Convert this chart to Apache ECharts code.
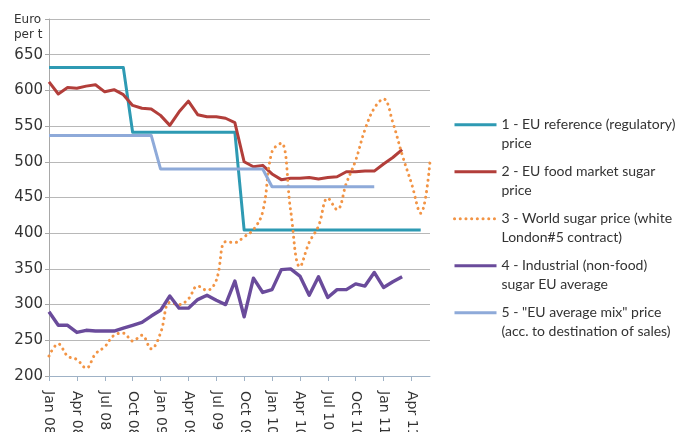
<!DOCTYPE html>
<html>
<head>
<meta charset="utf-8">
<script src="https://cdn.jsdelivr.net/npm/echarts@6/dist/echarts.min.js"></script>
<style>
html,body{margin:0;padding:0;background:#fff;}
#chart{width:678px;height:432px;}
</style>
</head>
<body>
<div id="chart"></div>
<script>
// Months Jan 08 .. Jun 11
const months = ["Jan 08","Feb 08","Mar 08","Apr 08","May 08","Jun 08","Jul 08","Aug 08","Sep 08","Oct 08","Nov 08","Dec 08",
  "Jan 09","Feb 09","Mar 09","Apr 09","May 09","Jun 09","Jul 09","Aug 09","Sep 09","Oct 09","Nov 09","Dec 09",
  "Jan 10","Feb 10","Mar 10","Apr 10","May 10","Jun 10","Jul 10","Aug 10","Sep 10","Oct 10","Nov 10","Dec 10",
  "Jan 11","Feb 11","Mar 11","Apr 11","May 11","Jun 11"];

const seriesNames = [
  "1 - EU reference (regulatory) price",
  "2 - EU food market sugar price",
  "3 - World sugar price (white London#5 contract)",
  "4 - Industrial (non-food) sugar EU average",
  "5 - \"EU average mix\" price (acc. to destination of sales)"
];
const legendLines = [
  "1 - EU reference (regulatory)\nprice",
  "2 - EU food market sugar\nprice",
  "3 - World sugar price (white\nLondon#5 contract)",
  "4 - Industrial (non-food)\nsugar EU average",
  "5 - \"EU average mix\" price\n(acc. to destination of sales)"
];

const euReference = [631.9,631.9,631.9,631.9,631.9,631.9,631.9,631.9,631.9,
  541.5,541.5,541.5,541.5,541.5,541.5,541.5,541.5,541.5,541.5,541.5,541.5,
  404.4,404.4,404.4,404.4,404.4,404.4,404.4,404.4,404.4,404.4,404.4,404.4,404.4,404.4,404.4,404.4,404.4,404.4,404.4,404.4,null];

const euFoodMarket = [612,595,604,603,606,608,598,601,594,579,575,574,
  565,551,570,585,566,563,563,561,555,500,493,495,
  483,475,477,477,478,476,478,479,486,486,487,487,
  497,506,517,null,null,null];

const worldPrice = [228,245,228,223,211,231,241,257,260,249,257,238,
  260,303,300,308,326,320,334,388,387,395,405,430,
  514,526,432,353,387,410,449,433,470,502,545,575,
  588,555,510,470,428,500];

const industrial = [290,271,271,261,264,263,263,263,267,271,275,284,
  292,312,295,295,307,313,306,300,333,283,337,317,
  321,349,350,340,313,339,310,321,321,329,326,345,
  324,332,339,null,null,null];

const euAverageMix = [537,537,537,537,537,537,537,537,537,537,537,537,
  490,490,490,490,490,490,490,490,490,490,490,490,
  465,465,465,465,465,465,465,465,465,465,465,465,
  null,null,null,null,null,null];

const yMin = 200, yMax = 700, yStep = 50;

const colors = ["#2E9AB3","#B23E3A","#F29445","#6A4B9B","#8EAAD9"];
const values = [euReference, euFoodMarket, worldPrice, industrial, euAverageMix];

const chart = echarts.init(document.getElementById('chart'), null, {renderer:'canvas'});

const series = values.map((d, k) => {
  const s = {
    name: seriesNames[k],
    type: 'line',
    data: d,
    symbol: 'none',
    showSymbol: false,
    connectNulls: false,
    animation: false,
    color: colors[k],
    lineStyle: {color: colors[k], width: k === 3 ? 3.4 : 3, cap: 'butt', join: 'round'}
  };
  if (k === 2) {
    s.smooth = 0.4;
    s.lineStyle = {color: colors[k], width: 3, type: [0.1, 5.6], cap: 'round'};
  }
  return s;
});

const option = {
  animation: false,
  textStyle: {fontFamily: 'DejaVu Sans'},
  title: {
    text: 'Euro\nper t',
    left: 14, top: 12,
    padding: 0,
    textStyle: {fontFamily: 'DejaVu Sans', fontSize: 12, fontWeight: 'normal', color: '#333', lineHeight: 15}
  },
  grid: {left: 49, right: 248, top: 19, bottom: 56, containLabel: false, outerBoundsMode: 'none'},
  legend: {
    orient: 'vertical',
    left: 453, top: 97,
    padding: 0,
    itemWidth: 42, itemHeight: 12,
    itemGap: -8.5,
    data: seriesNames,
    itemStyle: {opacity: 0},
    lineStyle: {width: 3},
    formatter: function (name) { return '\n' + legendLines[seriesNames.indexOf(name)]; },
    textStyle: {fontFamily: 'Lato', fontSize: 14, color: '#333', lineHeight: 18.5}
  },
  xAxis: {
    type: 'category',
    data: months,
    boundaryGap: false,
    axisLine: {lineStyle: {color: '#9FB2C6', width: 1}},
    axisTick: {show: true, interval: 2, length: 5, lineStyle: {color: '#9FB2C6'}},
    axisLabel: {interval: 2, rotate: -90, margin: 15, fontFamily: 'DejaVu Sans', fontSize: 14, color: '#333'},
    splitLine: {show: false}
  },
  yAxis: {
    type: 'value',
    min: yMin, max: yMax, interval: yStep,
    axisLine: {show: true, lineStyle: {color: '#A8A8A8'}},
    axisTick: {show: true, length: 4, lineStyle: {color: '#A8A8A8'}},
    axisLabel: {
      fontFamily: 'DejaVu Sans', fontSize: 15, color: '#333', margin: 6,
      formatter: function (v) { return v === yMax ? '' : String(v); }
    },
    splitLine: {show: true, lineStyle: {color: '#B8B8B8', width: 1}}
  },
  series: series
};
chart.setOption(option);
</script>
</body>
</html>
